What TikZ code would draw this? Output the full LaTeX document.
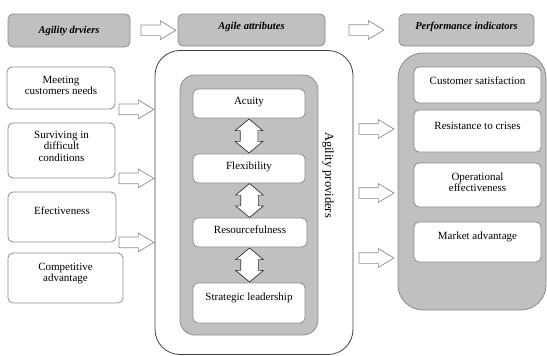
\documentclass[tikz,border=0pt]{standalone}
\usepackage{fontspec}
\setmainfont{Liberation Serif}
\usepackage{tikz}
\usetikzlibrary{shapes.arrows,calc}
\definecolor{panel}{HTML}{c0c0c0}
\definecolor{rim}{HTML}{8c8c8c}
\newcommand{\boxtext}[4][16pt]{\parbox[c][#3][t]{#2}{\centering\rule{0pt}{#1}#4}}
\tikzset{%
    card/.style={draw=rim, fill=white, rounded corners=5pt, inner sep=0pt, line width=0.8pt},
    head/.style={card, fill=panel, font=\fontsize{10.5}{12}\selectfont\bfseries\itshape},
    hollow/.style={single arrow, draw=rim, fill=white, inner xsep=0pt, inner ysep=5pt, text height=0pt, text depth=0pt,
        line width=0.7pt, minimum height=35pt, minimum width=18pt, single arrow head extend=4pt, single arrow tip angle=62},
    twoway/.style={double arrow, draw=black!80, fill=white, inner xsep=0pt, inner ysep=8.5pt, text height=0pt, text depth=0pt,
        line width=0.7pt, minimum height=34pt, minimum width=27pt, double arrow head extend=5pt, double arrow tip angle=100, rotate=90}
}

\begin{document}
\begin{tikzpicture}[x=1pt, y=-1pt, font=\fontsize{11}{11.5}\selectfont]
  \useasboundingbox (0,0) rectangle (547,356);

  % headers
  \node[head] (drivers) at (69,30.5) {\boxtext[19pt]{122pt}{33pt}{Agility drviers}};
  \node[head] (attributes) at (251.5,30) {\boxtext[15pt]{147pt}{32pt}{Agile attributes}};
  \node[head] (indicators) at (466.5,30) {\boxtext[15pt]{135pt}{32pt}{Performance indicators}};
  \node[hollow] (arrowa) at ($(drivers.east)!0.5!(attributes.west)$) {};
  \node[hollow] (arrowb) at ($(attributes.east)!0.5!(indicators.west)$) {};

  % drivers
  \node[card] (meeting) at (61,88) {\boxtext{108pt}{42pt}{Meeting\\customers needs}};
  \node[card] (surviving) at (61.5,150.5) {\boxtext[15pt]{107pt}{55pt}{Surviving in\\difficult\\conditions}};
  \node[card] (efect) at (62,217) {\boxtext[22pt]{108pt}{50pt}{Efectiveness}};
  \node[card] (competitive) at (65.5,278) {\boxtext[17pt]{115pt}{50pt}{Competitive\\advantage}};

  % providers
  \node[draw=black!75, rounded corners=25pt, line width=0.8pt, minimum width=198pt, minimum height=304pt] (providers) at (254,202.5) {};
  \node[draw=rim, fill=panel, rounded corners=15pt, line width=0.8pt, minimum width=138pt, minimum height=260pt] (attrpanel) at (249,205) {};
  \node[rotate=-90, font=\fontsize{12.5}{13}\selectfont] (provlabel) at (328,175) {Agility providers};

  \node[card] (acuity) at (249,103.5) {\boxtext[15pt]{112pt}{29pt}{Acuity}};
  \node[card] (flex) at (249,168.5) {\boxtext[15pt]{112pt}{29pt}{Flexibility}};
  \node[card] (resource) at (250,232.5) {\boxtext[15pt]{114pt}{29pt}{Resourcefulness}};
  \node[card] (strategic) at (249,303) {\boxtext[17pt]{112pt}{40pt}{Strategic leadership}};

  \node[twoway] (dbla) at ($(acuity.south)!0.5!(flex.north)$) {};
  \node[twoway] (dblb) at ($(flex.south)!0.5!(resource.north)$) {};
  \node[twoway] (dblc) at ($(resource.south)!0.5!(strategic.north)$) {};

  \node[hollow, anchor=tip] (ina) at (providers.west |- meeting.south) {};
  \node[hollow, anchor=tip] (inb) at (providers.west |- surviving.south) {};
  \node[hollow, anchor=tip] (inc) at (providers.west |- efect.south) {};

  % indicators
  \node[draw=rim, fill=panel, rounded corners=25pt, line width=0.8pt, minimum width=148pt, minimum height=257pt] (perfpanel) at (472,181.5) {};
  \node[card] (customer) at (477.5,85) {\boxtext[17pt]{127pt}{36pt}{Customer satisfaction}};
  \node[card] (resist) at (477.5,131) {\boxtext[19pt]{127pt}{42pt}{Resistance to crises}};
  \node[card] (operational) at (477.5,185) {\boxtext[17pt]{127pt}{44pt}{Operational\\effectiveness}};
  \node[card] (market) at (477.5,242) {\boxtext[17pt]{127pt}{40pt}{Market advantage}};

  \node[hollow, anchor=tip] (outa) at ([xshift=-3pt]perfpanel.west |- 0,129) {};
  \node[hollow, anchor=tip] (outb) at ([xshift=-3pt]perfpanel.west |- 0,193) {};
  \node[hollow, anchor=tip] (outc) at ([xshift=-3pt]perfpanel.west |- 0,258) {};
\end{tikzpicture}
\end{document}
